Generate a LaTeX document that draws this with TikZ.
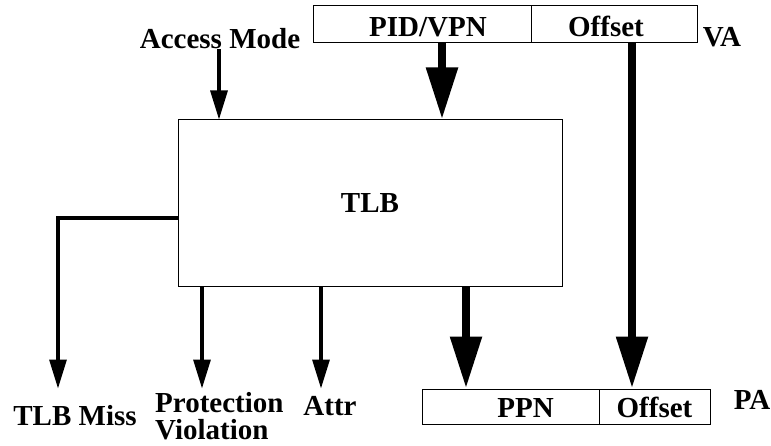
\documentclass[tikz,border=0pt]{standalone}
\usepackage{fontspec}
\setmainfont{Liberation Serif}
\usetikzlibrary{arrows.meta,positioning}
\tikzset{
    field/.style={
        draw,line width=1pt,minimum height=37pt,inner sep=0pt,text depth=0pt,font=\fontsize{29}{25}\bfseries\selectfont
    },
    lbl/.style={
        inner sep=0pt,font=\fontsize{29}{27}\bfseries\selectfont
    },
    thinarrow/.style={
        line width=3.2pt,-{Triangle[length=29pt,width=17pt]}
    },
    thickarrow/.style={
        line width=8.5pt,-{Triangle[length=52pt,width=30pt]}
    }
}
\begin{document}
\begin{tikzpicture}[x=1pt,y=-1pt]
\useasboundingbox (0,0) rectangle (771,446);
\node[field,minimum width=218pt,text height=26pt] (vpn) at (422,24) {\hspace*{12pt}PID/VPN};
\node[field,minimum width=166pt,text height=26pt] (voff) at (614,24) {Offset\hspace*{16pt}};
\node[lbl,anchor=base] (va) at (722,47) {VA};
\node[lbl,anchor=base] (mode) at (220,49) {Access Mode};
\node[draw,line width=1pt,minimum width=384pt,minimum height=167pt,font=\fontsize{29}{25}\bfseries\selectfont] (tlb) at (370,203.5) {TLB};
\node[field,minimum width=177pt,minimum height=35pt,text height=21pt] (ppn) at (510.5,406.5) {\hspace*{30pt}PPN};
\node[field,minimum width=111pt,minimum height=35pt,text height=21pt] (poff) at (654.5,406.5) {Offset};
\node[lbl,anchor=base] (pa) at (752,409) {PA};
\node[lbl,anchor=base] (miss) at (75,425) {TLB Miss};
\node[lbl,anchor=north west,align=left] (prot) at (155,392) {Protection\\Violation};
\node[lbl,anchor=base] (attr) at (330,415) {Attr};
\coordinate (missx) at (58,218);
\coordinate (modex) at (219,0);
\coordinate (vpnx) at (442,0);
\coordinate (offx) at (632,0);
\coordinate (protx) at (202,0);
\coordinate (attrx) at (321,0);
\coordinate (ppnx) at (466,0);
\draw[thinarrow] (modex |- mode.south) -- (modex |- tlb.north);
\draw[thickarrow] (vpnx |- vpn.south) -- (vpnx |- tlb.north);
\draw[thickarrow] (offx |- voff.south) -- (offx |- poff.north);
\draw[thinarrow] (tlb.west |- missx) -- (missx) -- (missx |- ppn.north);
\draw[thinarrow] (protx |- tlb.south) -- (protx |- ppn.north);
\draw[thinarrow] (attrx |- tlb.south) -- (attrx |- ppn.north);
\draw[thickarrow] (ppnx |- tlb.south) -- (ppnx |- ppn.north);
\end{tikzpicture}
\end{document}
